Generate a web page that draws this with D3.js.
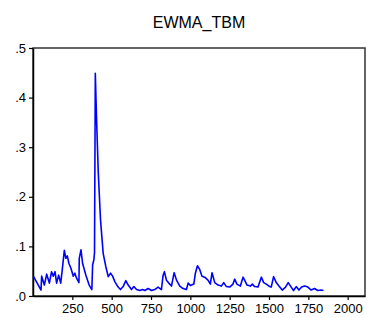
<!DOCTYPE html>
<html lang="en">
<head>
<meta charset="UTF-8" />
<title>EWMA_TBM</title>
<script src="https://d3js.org/d3.v7.min.js"></script>
<style>
  body { margin: 0; background: #fff; }
  svg text { font-family: "Liberation Sans", Arial, sans-serif; fill: #000; }
</style>
</head>
<body>
<div id="chart"></div>
<script>
var w = 367;
var h = 318;
var margin = { top: 48, right: 2, bottom: 22, left: 33 };

var title = "EWMA_TBM";
var xTicks = [250, 500, 750, 1000, 1250, 1500, 1750, 2000];
var yTicks = [0, 0.1, 0.2, 0.3, 0.4, 0.5];

var obs = [2, 51, 55, 72, 87, 104, 118, 129, 140, 150, 163, 176, 184, 199, 209, 218, 228, 241,
  256, 266, 277, 292, 294, 305, 315, 336, 357, 374, 379, 387, 391, 396, 404, 415, 429, 446,
  463, 478, 493, 506, 520, 541, 556, 573, 590, 605, 626, 641, 658, 679, 696, 711, 732, 753,
  774, 795, 816, 827, 835, 848, 863, 880, 897, 912, 933, 954, 975, 986, 1000, 1022, 1032,
  1045, 1060, 1074, 1091, 1112, 1127, 1138, 1155, 1176, 1197, 1212, 1229, 1250, 1271, 1282,
  1296, 1318, 1335, 1345, 1360, 1381, 1394, 1409, 1430, 1451, 1466, 1483, 1504, 1514, 1529,
  1546, 1563, 1584, 1605, 1622, 1641, 1656, 1673, 1690, 1707, 1726, 1747, 1768, 1789, 1810,
  1831, 1846];
var ewma = [0.040, 0.012, 0.040, 0.022, 0.044, 0.026, 0.049, 0.040, 0.049, 0.026, 0.042, 0.026,
  0.047, 0.092, 0.076, 0.081, 0.066, 0.056, 0.040, 0.046, 0.036, 0.027, 0.076, 0.093, 0.066,
  0.042, 0.022, 0.013, 0.063, 0.073, 0.088, 0.449, 0.356, 0.248, 0.154, 0.086, 0.059, 0.039,
  0.046, 0.040, 0.029, 0.018, 0.013, 0.019, 0.031, 0.022, 0.013, 0.019, 0.013, 0.011, 0.013,
  0.011, 0.015, 0.011, 0.013, 0.018, 0.013, 0.042, 0.049, 0.032, 0.026, 0.020, 0.047, 0.032,
  0.020, 0.015, 0.013, 0.026, 0.021, 0.024, 0.046, 0.061, 0.053, 0.040, 0.038, 0.032, 0.024,
  0.047, 0.027, 0.022, 0.020, 0.027, 0.019, 0.018, 0.024, 0.034, 0.024, 0.020, 0.038, 0.032,
  0.022, 0.020, 0.024, 0.019, 0.018, 0.038, 0.027, 0.024, 0.019, 0.018, 0.039, 0.027, 0.020,
  0.012, 0.018, 0.027, 0.018, 0.011, 0.019, 0.012, 0.018, 0.020, 0.018, 0.012, 0.015, 0.011,
  0.012, 0.011];

var dataset = obs.map(function (d, i) { return { x: d, y: ewma[i] }; });

var svg = d3.select("#chart")
  .append("svg")
  .attr("width", w)
  .attr("height", h);

var xScale = d3.scaleLinear()
  .domain([0, 2110])
  .range([margin.left, w - margin.right]);

var yScale = d3.scaleLinear()
  .domain([0, 0.5])
  .range([h - margin.bottom, margin.top]);

// frame
svg.append("rect")
  .attr("x", margin.left)
  .attr("y", margin.top)
  .attr("width", w - margin.right - margin.left)
  .attr("height", h - margin.bottom - margin.top)
  .attr("fill", "none")
  .attr("stroke", "#333")
  .attr("stroke-width", 1.5);

var xAxis = d3.axisBottom(xScale)
  .tickValues(xTicks)
  .tickSize(4)
  .tickSizeOuter(0)
  .tickFormat(d3.format("d"));

var yAxis = d3.axisLeft(yScale)
  .tickValues(yTicks)
  .tickSize(4)
  .tickSizeOuter(0)
  .tickFormat(function (d) { return d3.format(".1f")(d).replace(/^0/, ""); });

var gx = svg.append("g")
  .attr("transform", "translate(0," + (h - margin.bottom) + ")")
  .call(xAxis);

var gy = svg.append("g")
  .attr("transform", "translate(" + margin.left + ",0)")
  .call(yAxis);

[gx, gy].forEach(function (g) {
  g.select(".domain").attr("stroke", "#000").attr("stroke-width", 1.5);
  g.selectAll(".tick line").attr("stroke", "#000").attr("stroke-width", 1.2);
  g.selectAll("text").style("font-size", "13px").style("font-family", "Liberation Sans, Arial, sans-serif");
});
gx.selectAll("text").attr("dy", "0.75em").attr("y", 7);
gy.selectAll("text").attr("x", -7);

var line = d3.line()
  .x(function (d) { return xScale(d.x); })
  .y(function (d) { return yScale(d.y); });

svg.append("path")
  .datum(dataset)
  .attr("d", line)
  .attr("fill", "none")
  .attr("stroke", "#0000ff")
  .attr("stroke-width", 1.6)
  .attr("stroke-linejoin", "round");

svg.append("text")
  .attr("x", (margin.left + w - margin.right) / 2)
  .attr("y", 28)
  .attr("text-anchor", "middle")
  .style("font-size", "16px")
  .text(title);
</script>
</body>
</html>
